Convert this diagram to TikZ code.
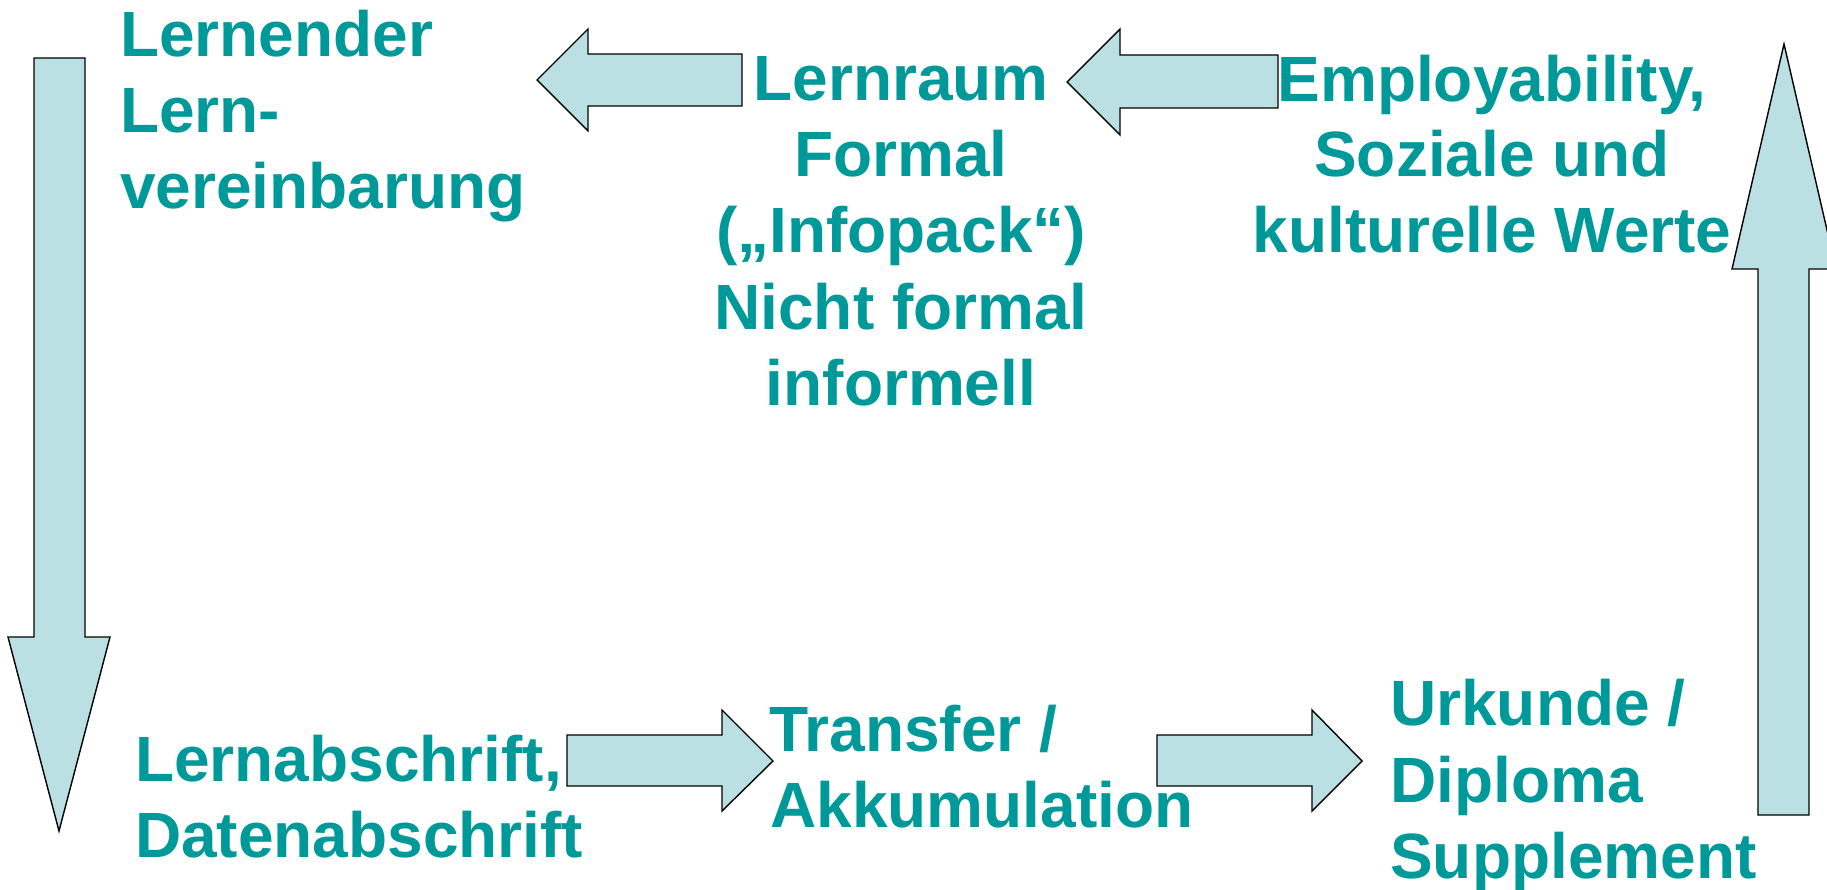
\documentclass[tikz,border=0pt]{standalone}
\usepackage{fontspec}
\setmainfont{Liberation Sans}
\definecolor{tealtext}{HTML}{009999}
\definecolor{arrowfill}{HTML}{BBE0E3}
\begin{document}
\begin{tikzpicture}[x=1pt,y=-1pt,
  blockarrow/.style={draw=black, fill=arrowfill, line width=1.4pt, line join=miter},
  lbl/.style={inner sep=0pt, text=tealtext, font=\fontsize{64}{76}\selectfont\bfseries},
  lblw/.style={lbl, anchor=base west},
  lblc/.style={lbl, anchor=base}]
\clip (0,0) rectangle (1827,890);

% block arrows of the cycle
\draw[blockarrow] (34,58) -- (85,58) -- (85,637) -- (110,637) -- (59,831) -- (8,637) -- (34,637) -- cycle;
\draw[blockarrow] (742,54) -- (742,106) -- (588,106) -- (588,131) -- (537,80) -- (588,29) -- (588,54) -- cycle;
\draw[blockarrow] (1278,55) -- (1278,108) -- (1120,108) -- (1120,135) -- (1067,82) -- (1120,29) -- (1120,55) -- cycle;
\draw[blockarrow] (567,735) -- (722,735) -- (722,710) -- (773,761) -- (722,811) -- (722,786) -- (567,786) -- cycle;
\draw[blockarrow] (1157,735) -- (1312,735) -- (1312,710) -- (1362,761) -- (1312,811) -- (1312,786) -- (1157,786) -- cycle;
\draw[blockarrow] (1758,815) -- (1758,269) -- (1732,269) -- (1784,44) -- (1836,269) -- (1809,269) -- (1809,815) -- cycle;

% learner and learning agreement
\node[lblw] (lernA) at (120,57) {Lernender};
\node[lblw] (lernB) at (120,133) {Lern-};
\node[lblw] (lernC) at (120,209) {vereinbarung};

% learning space
\node[lblc] (raumA) at (901,101) {Lernraum};
\node[lblc] (raumB) at (901,177) {Formal};
\node[lblc] (raumC) at (901,253) {(„Infopack“)};
\node[lblc] (raumD) at (901,330) {Nicht formal};
\node[lblc] (raumE) at (901,405) {informell};

% values
\node[lblc] (wertA) at (1492,102) {Employability,};
\node[lblc] (wertB) at (1492,177) {Soziale und};
\node[lblc] (wertC) at (1492,253) {kulturelle Werte};

% transcripts
\node[lblw] (abschA) at (135,781) {Lernabschrift,};
\node[lblw] (abschB) at (135,857) {Datenabschrift};

% transfer
\node[lblw] (transA) at (769,751) {Transfer /};
\node[lblw] (transB) at (770,827) {Akkumulation};

% certificate
\node[lblw] (urkA) at (1390,725) {Urkunde /};
\node[lblw] (urkB) at (1390,802) {Diploma};
\node[lblw] (urkC) at (1390,878) {Supplement};
\end{tikzpicture}
\end{document}
